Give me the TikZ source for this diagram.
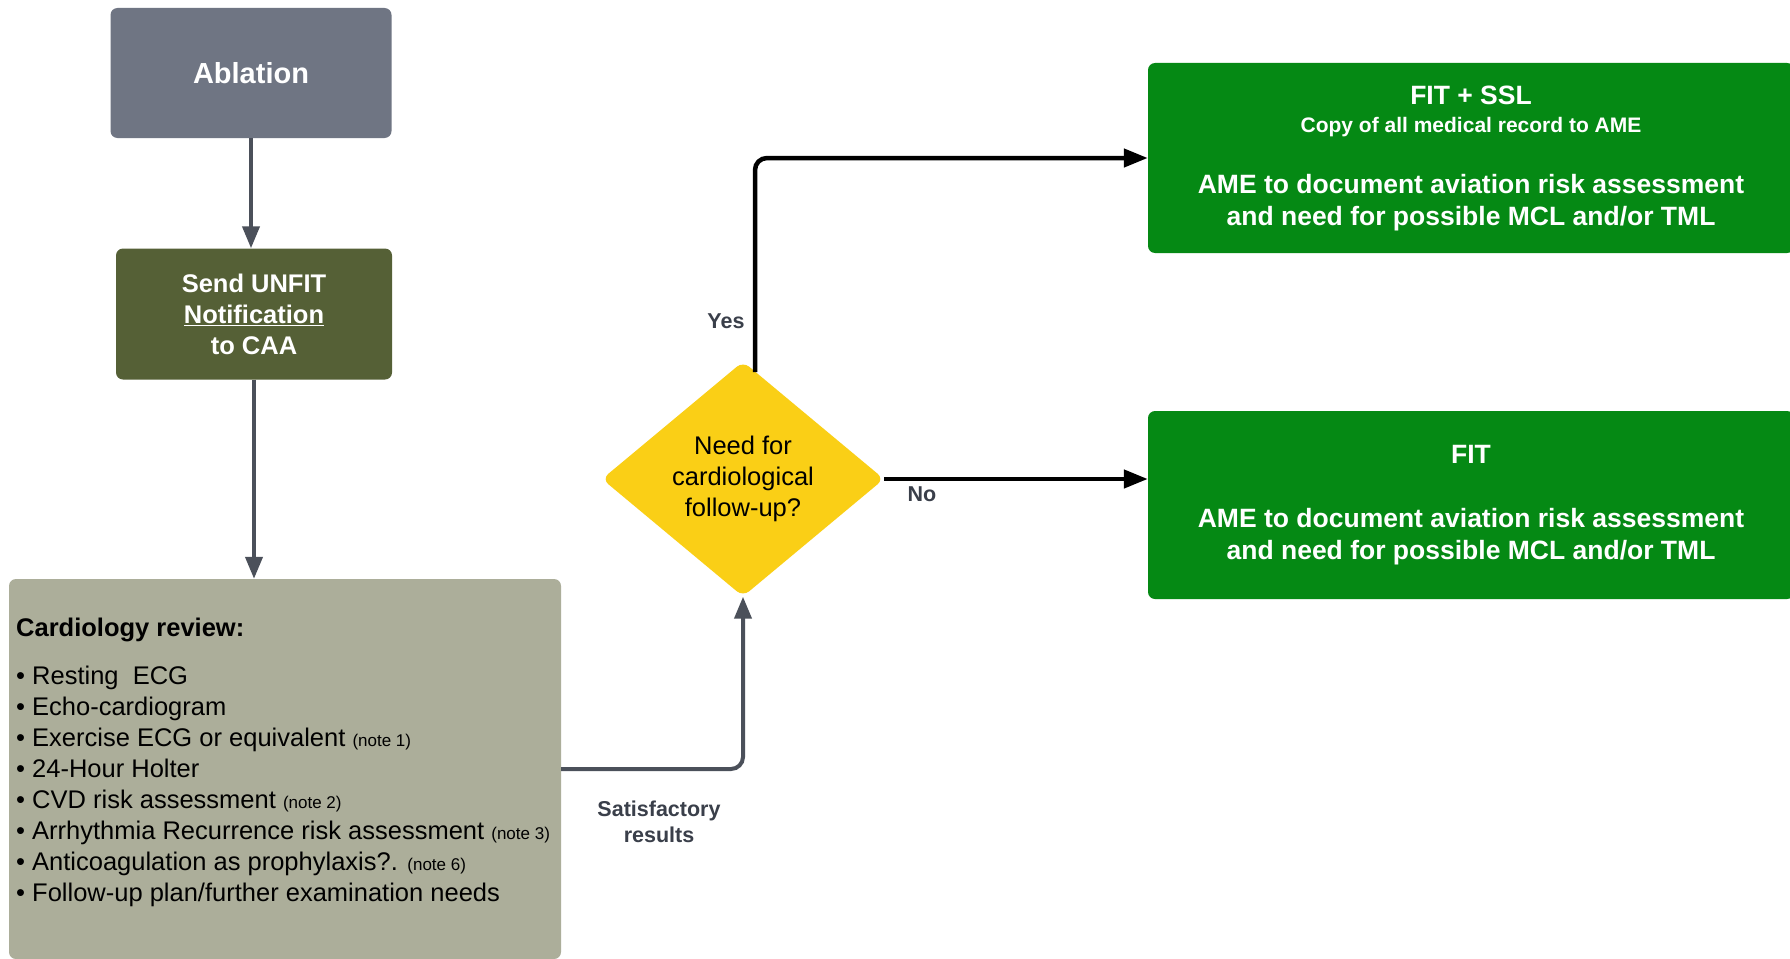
\documentclass[tikz,border=0pt]{standalone}
\usepackage{fontspec}
\setmainfont{Liberation Sans}
\usetikzlibrary{arrows.meta,shapes.geometric}
\definecolor{ablgray}{HTML}{6F7583}
\definecolor{olivebox}{HTML}{556036}
\definecolor{cardgray}{HTML}{ACAE9A}
\definecolor{yellowd}{HTML}{FACF16}
\definecolor{fitgreen}{HTML}{058914}
\definecolor{arrgray}{HTML}{4B505A}
\definecolor{labgray}{HTML}{3A3F4A}
\begin{document}
\begin{tikzpicture}[x=1pt,y=-1pt,
  box/.style={rectangle,rounded corners=7pt,draw=none,inner sep=0pt,align=center,text=white},
  grayarrow/.style={draw=arrgray,line width=4pt,-{Triangle[length=22pt,width=17pt]}},
  blackarrow/.style={draw=black,line width=4.5pt,-{Triangle[length=24pt,width=18pt]}},
  lbl/.style={text=labgray,font=\bfseries\fontsize{21.5}{26}\selectfont,align=center,inner sep=0pt}]
\useasboundingbox (0,0) rectangle (1790,958);
\clip (0,0) rectangle (1790,958);
\fill[white] (0,0) rectangle (1790,958);

\node[box,fill=ablgray,minimum width=281pt,minimum height=130pt,font=\bfseries\fontsize{29}{34}\selectfont] (abl) at (251,73) {Ablation};

\node[box,fill=olivebox,minimum width=276pt,minimum height=131pt,font=\bfseries\fontsize{25.5}{31}\selectfont] (unfit) at (254,314) {Send UNFIT\\\underline{Notification}\\ to CAA};

\node[rectangle,rounded corners=7pt,fill=cardgray,minimum width=552pt,minimum height=380pt,inner sep=0pt] (card) at (285,769) {};
\node[anchor=north west,align=left,inner sep=0pt,font=\fontsize{25.5}{31}\selectfont] (cardtxt) at (16,618) {{\bfseries Cardiology review:}\\[17pt]
• Resting\ \ ECG\\
• Echo-cardiogram\\
• Exercise ECG or equivalent {\fontsize{17}{20}\selectfont (note 1)}\\
• 24-Hour Holter\\
• CVD risk assessment {\fontsize{17}{20}\selectfont (note 2)}\\
• Arrhythmia Recurrence risk assessment {\fontsize{17}{20}\selectfont (note 3)}\\
• Anticoagulation as prophylaxis?. {\fontsize{17}{20}\selectfont (note 6)}\\
• Follow-up plan/further examination needs};

\node[diamond,fill=yellowd,rounded corners=8pt,minimum width=282pt,minimum height=235pt,inner sep=0pt,aspect=1.2,align=center,font=\fontsize{25.5}{31}\selectfont] (dia) at (743,479) {Need for\\cardiological\\follow-up?};

\node[box,fill=fitgreen,minimum width=646pt,minimum height=190pt,font=\bfseries\fontsize{26.5}{32}\selectfont] (g1) at (1471,158) {FIT + SSL\\[-4pt]{\fontsize{21}{26}\selectfont Copy of all medical record to AME}\\[29pt]AME to document aviation risk assessment\\and need for possible MCL and/or TML};

\node[box,fill=fitgreen,minimum width=646pt,minimum height=188pt,font=\bfseries\fontsize{26.5}{32}\selectfont] (g2) at (1471,505) {FIT\\[32pt]AME to document aviation risk assessment\\and need for possible MCL and/or TML};

\coordinate (ys) at (755,372);
\draw[grayarrow] (abl.south) -- (abl.south |- unfit.north);
\draw[grayarrow] (unfit.south) -- (unfit.south |- card.north);
\draw[grayarrow,rounded corners=12pt] (card.east) -| (dia.south);
\draw[blackarrow,rounded corners=12pt] (ys) |- (g1.west);
\draw[blackarrow] (dia.east) -- (dia.east -| g2.west);

\node[lbl] (yes) at (726,321) {Yes};
\node[lbl] (no) at (922,494) {No};
\node[lbl] (sat) at (659,822) {Satisfactory\\results};
\end{tikzpicture}
\end{document}
